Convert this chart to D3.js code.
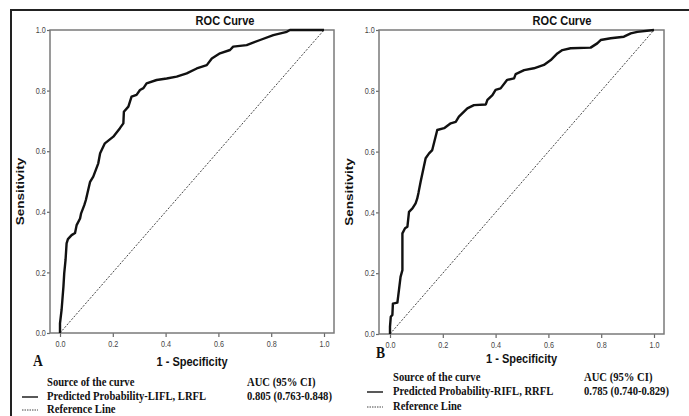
<!DOCTYPE html>
<html>
<head>
<meta charset="utf-8">
<script src="https://cdn.jsdelivr.net/npm/d3@7"></script>
<style>
  html, body { margin: 0; padding: 0; background: #fff; }
  svg { display: block; }
</style>
</head>
<body>
<div id="chart"></div>
<script>
// ROC points: [1 - specificity, sensitivity]
const rocA = [
  [0, 0], [0, .032], [.006, .076], [.009, .109], [.013, .153], [.016, .197], [.021, .241],
  [.025, .296], [.03, .31], [.044, .323], [.057, .33], [.063, .356], [.076, .378], [.08, .395],
  [.092, .422], [.098, .439], [.114, .499], [.126, .516], [.145, .56], [.152, .593], [.17, .626],
  [.202, .648], [.227, .676], [.24, .692], [.242, .73], [.259, .747], [.271, .78], [.29, .786],
  [.303, .802], [.316, .808], [.328, .824], [.366, .835], [.404, .84], [.442, .846], [.48, .857],
  [.518, .873], [.556, .884], [.575, .906], [.606, .923], [.644, .934], [.656, .945], [.707, .95],
  [.758, .967], [.808, .983], [.859, .994], [.871, 1], [1, 1]
];
const rocB = [
  [0, 0], [0, .024], [.003, .057], [.009, .063], [.011, .1], [.028, .103], [.034, .145],
  [.04, .188], [.047, .21], [.047, .331], [.057, .348], [.066, .353], [.072, .402], [.085, .413],
  [.097, .43], [.103, .445], [.108, .465], [.116, .501], [.135, .578], [.148, .594], [.16, .605],
  [.179, .671], [.205, .677], [.23, .693], [.249, .698], [.261, .715], [.293, .742], [.318, .753],
  [.363, .755], [.369, .77], [.388, .786], [.40, .803], [.419, .808], [.444, .836], [.47, .841],
  [.476, .855], [.508, .868], [.545, .874], [.583, .885], [.609, .901], [.634, .923], [.653, .934],
  [.684, .94], [.76, .942], [.785, .956], [.798, .967], [.836, .973], [.886, .978], [.912, .989],
  [.937, .994], [1, 1]
];
const referenceLine = [[0, 0], [1, 1]];
const axisTicks = [0, 0.2, 0.4, 0.6, 0.8, 1.0];
const panelLetters = ["A", "B"];
const curveNames = ["Predicted Probability-LIFL, LRFL", "Predicted Probability-RIFL, RRFL"];
const aucLabels = ["0.805 (0.763-0.848)", "0.785 (0.740-0.829)"];

const W = 689, H = 416;
const SX = 0.85; // the picture is squeezed sideways, text too

const svg = d3.select("#chart").append("svg")
  .attr("width", W).attr("height", H);

// outer frame (only top and left edges are in view)
svg.append("path")
  .attr("d", `M11,${H} L11,10 L${W},10`)
  .attr("fill", "none").attr("stroke", "#222").attr("stroke-width", 2);

function txt(g, x, y, str, o = {}) {
  return g.append("text")
    .attr("transform", `translate(${x},${y}) scale(${SX},1)` + (o.rotate ? ` rotate(${o.rotate})` : ""))
    .attr("text-anchor", o.anchor || "start")
    .attr("font-family", o.family || "Arial, 'Liberation Sans', sans-serif")
    .attr("font-weight", o.weight || "bold")
    .attr("font-size", o.size || 13)
    .attr("fill", o.fill || "#111")
    .text(str);
}

const panels = [
  { data: rocA, left: 50, right: 334, top: 30, bottom: 333, x0: 60, x1: 324,
    titleX: 225, xlabY: 366, letterX: 33, letterY: 366,
    legX: 47, symX: 22, aucX: 247, legY: [386, 400, 413] },
  { data: rocB, left: 379, right: 664, top: 30, bottom: 334, x0: 390, x1: 654,
    titleX: 562, xlabY: 363, letterX: 376, letterY: 358,
    legX: 393, symX: 367, aucX: 584, legY: [381, 395, 410] }
];

panels.forEach((p, i) => {
  const g = svg.append("g");
  const x = d3.scaleLinear().domain([0, 1]).range([p.x0, p.x1]);
  const y = d3.scaleLinear().domain([0, 1]).range([p.bottom, p.top]);

  // axes
  const yAxis = g.append("g").attr("transform", `translate(${p.left},0)`)
    .call(d3.axisLeft(y).tickValues(axisTicks).tickSize(3).tickPadding(2).tickFormat(d3.format(".1f")));
  const xAxis = g.append("g").attr("transform", `translate(0,${p.bottom})`)
    .call(d3.axisBottom(x).tickValues(axisTicks).tickSize(4).tickPadding(4).tickFormat(d3.format(".1f")));
  [yAxis, xAxis].forEach(a => {
    a.select(".domain").remove();
    a.selectAll(".tick line").attr("stroke", "#666").attr("stroke-width", 1.2);
    a.selectAll(".tick text")
      .attr("font-family", "Arial, 'Liberation Sans', sans-serif")
      .attr("font-size", 8.5).attr("fill", "#444")
      .attr("transform", `scale(${SX},1)`);
  });

  g.append("rect")
    .attr("x", p.left).attr("y", p.top)
    .attr("width", p.right - p.left).attr("height", p.bottom - p.top)
    .attr("fill", "none").attr("stroke", "#7a7a7a").attr("stroke-width", 1.5);

  const line = d3.line().x(d => x(d[0])).y(d => y(d[1]));

  g.append("path").datum(referenceLine)
    .attr("d", line).attr("fill", "none")
    .attr("stroke", "#444").attr("stroke-width", 1).attr("stroke-dasharray", "2,1.5");

  g.append("path").datum(p.data)
    .attr("d", line).attr("fill", "none")
    .attr("stroke", "#111").attr("stroke-width", 2.4).attr("stroke-linejoin", "round");

  // titles
  txt(g, p.titleX, 25, "ROC Curve", { anchor: "middle" });
  txt(g, (p.left + p.right) / 2, p.xlabY, "1 - Specificity", { anchor: "middle" });
  txt(g, p.left - 26, (p.top + p.bottom) / 2 + 10, "Sensitivity", { anchor: "middle", rotate: -90, size: 13.5 });
  txt(g, p.letterX, p.letterY, panelLetters[i], { family: "'Liberation Serif', 'Times New Roman', serif", size: 16 });

  // legend
  const serif = { family: "'Liberation Serif', 'Times New Roman', serif", size: 12.5 };
  txt(g, p.legX, p.legY[0], "Source of the curve", serif);
  txt(g, p.legX, p.legY[1], curveNames[i], serif);
  txt(g, p.legX, p.legY[2], "Reference Line", serif);
  txt(g, p.aucX, p.legY[0], "AUC (95% CI)", serif);
  txt(g, p.aucX, p.legY[1], aucLabels[i], serif);

  g.append("line")
    .attr("x1", p.symX).attr("x2", p.symX + 16)
    .attr("y1", p.legY[1] - 3).attr("y2", p.legY[1] - 3)
    .attr("stroke", "#222").attr("stroke-width", 1.5);
  g.append("line")
    .attr("x1", p.symX).attr("x2", p.symX + 16)
    .attr("y1", p.legY[2] - 3).attr("y2", p.legY[2] - 3)
    .attr("stroke", "#444").attr("stroke-width", 1).attr("stroke-dasharray", "1.5,1");
});
</script>
</body>
</html>
